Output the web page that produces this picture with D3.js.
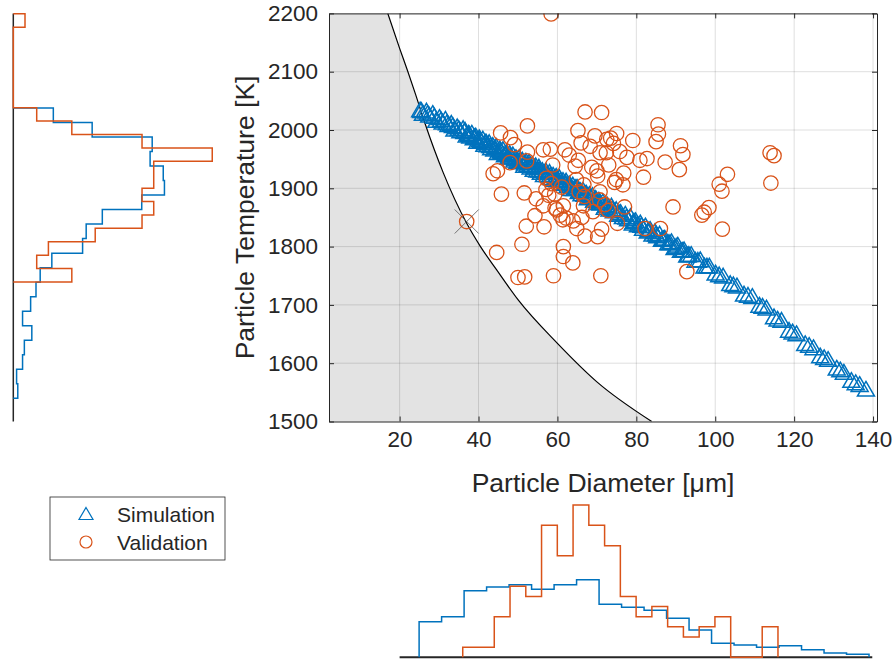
<!DOCTYPE html>
<html>
<head>
<meta charset="utf-8">
<script src="https://cdn.jsdelivr.net/npm/d3@7/dist/d3.min.js"></script>
<style>
  body { margin: 0; background: #fff; }
  text { font-family: "Liberation Sans", Arial, sans-serif; fill: #262626; }
</style>
</head>
<body>
<svg id="chart" width="895" height="659"></svg>
<script>
'use strict';

// simulation points (diameter in um, temperature in K)
var simDiameter = [
  25.2, 25.9, 26.8, 27.5, 28.4, 29.3, 30.1,
  30.9, 31.6, 32.4, 33.1, 33.9, 34.6, 35.4, 36.1,
  36.6, 37.0, 37.5, 37.9, 38.3, 38.8, 39.3, 39.7, 40.2, 40.6, 41.1, 41.5, 41.9,
  42.3, 42.7, 43.2, 43.6, 44.0, 44.5, 44.9, 45.4, 45.8, 46.2, 46.7, 47.1, 47.6,
  47.9, 48.3, 48.7, 49.1, 49.5, 49.9, 50.3, 50.7, 51.1, 51.6, 52.0, 52.4, 52.8, 53.2,
  53.6, 54.0, 54.5, 54.9, 55.3, 55.8, 56.2, 56.6, 57.1, 57.5, 58.0, 58.4, 58.9,
  59.3, 59.7, 60.1, 60.5, 61.0, 61.4, 61.8, 62.2, 62.6, 63.0, 63.5, 63.9, 64.3, 64.7,
  65.0, 65.4, 65.7, 66.1, 66.5, 66.9, 67.3, 67.7, 68.1, 68.5, 68.9, 69.3, 69.7, 70.1, 70.5,
  70.9, 71.5, 72.0, 72.6, 73.2, 73.7, 74.3, 74.9, 75.4, 76.0,
  76.6, 77.2, 77.9, 78.5, 79.1, 79.8, 80.4, 81.0, 81.7,
  82.3, 82.9, 83.5, 84.1, 84.7, 85.3, 85.9, 86.5, 87.2,
  88.1, 88.9, 89.7, 90.5, 91.3, 92.1, 92.9,
  93.9, 95.0, 96.2, 97.3, 98.5,
  100.1, 102.0, 103.8,
  105.5, 107.3, 109.4,
  111.2, 113.0, 114.9,
  116.8, 118.7, 120.6,
  122.8, 124.9, 126.6,
  128.6, 130.8, 132.6,
  134.5, 136.6, 138.2,
  25.5, 27.1, 28.8, 30.5, 32.0, 33.5, 35.0, 36.4, 37.7, 39.0,
  40.4, 41.7, 43.0, 44.2, 45.6, 47.0, 48.1, 49.3, 50.5, 51.8,
  53.0, 54.2, 55.5, 56.8, 58.2, 59.5, 60.8, 62.0, 63.3, 64.5,
  65.9, 67.1, 68.3, 69.5, 70.7, 72.3, 74.0, 75.7, 77.5, 79.4,
  81.3, 83.2, 85.0, 86.9, 88.5, 90.1, 91.7, 93.3, 95.6, 97.9,
  101.0, 104.6, 108.3, 112.0, 115.8, 119.6, 123.8, 127.6, 131.7, 135.6
];
var simTemperature = [
  2031, 2025, 2029, 2022, 2025, 2013, 2018,
  2010, 2015, 2006, 2008, 1998, 2002, 1995, 1999,
  1996, 1988, 1991, 1986, 1991, 1983, 1986, 1977, 1983, 1978, 1981, 1972, 1976,
  1971, 1975, 1966, 1970, 1964, 1968, 1958, 1964, 1959, 1963, 1954, 1958, 1950,
  1956, 1950, 1954, 1945, 1949, 1943, 1949, 1942, 1945, 1936, 1943, 1937, 1941, 1933,
  1937, 1929, 1935, 1928, 1933, 1924, 1927, 1920, 1926, 1920, 1924, 1915, 1919,
  1912, 1917, 1911, 1915, 1905, 1910, 1905, 1909, 1901, 1904, 1896, 1902, 1896, 1898,
  1898, 1891, 1893, 1887, 1893, 1886, 1888, 1880, 1886, 1881, 1884, 1876, 1879, 1872, 1876,
  1871, 1873, 1864, 1868, 1861, 1866, 1858, 1860, 1852, 1855,
  1848, 1852, 1844, 1848, 1837, 1841, 1834, 1837, 1828,
  1832, 1823, 1826, 1818, 1822, 1815, 1818, 1809, 1811,
  1803, 1805, 1795, 1799, 1790, 1791, 1782,
  1783, 1773, 1774, 1763, 1763,
  1751, 1746, 1733,
  1729, 1715, 1711,
  1696, 1691, 1676,
  1670, 1653, 1647,
  1630, 1623, 1609,
  1603, 1588, 1581,
  1567, 1560, 1552,
  2030, 2025, 2020, 2014, 2009, 2004, 1999, 1994, 1989, 1985,
  1980, 1975, 1970, 1966, 1961, 1956, 1952, 1948, 1944, 1940,
  1936, 1933, 1928, 1924, 1919, 1915, 1910, 1906, 1901, 1897,
  1892, 1887, 1882, 1878, 1873, 1867, 1861, 1854, 1847, 1840,
  1833, 1825, 1818, 1810, 1803, 1797, 1790, 1783, 1773, 1763,
  1748, 1731, 1713, 1694, 1672, 1650, 1627, 1606, 1585, 1563
];

// validation measurements
var valDiameter = [
  52.4, 45.6, 48.1, 49.1, 52.4, 56.4, 58.2, 61.9, 63.0, 52.2, 48.0, 44.8, 43.7, 57.2, 45.8, 51.6,
  57.1, 59.3, 61.1, 54.6, 56.4, 59.4, 61.5, 54.3, 60.7, 62.2, 52.1, 56.6, 37.0, 51.0, 44.6, 61.5,
  61.5, 50.0, 51.7, 59.0, 63.9, 67.0, 71.2, 65.2, 85.5, 85.6, 85.0, 75.0, 73.5, 79.1, 91.2, 91.8,
  65.3, 70.8, 72.4, 75.8, 77.6, 80.9, 82.7, 87.3, 90.9, 64.5, 68.7, 70.2, 74.9, 76.8, 76.6, 81.8,
  66.7, 65.5, 70.8, 66.8, 70.7, 72.9, 89.3, 96.6, 98.4, 59.8, 61.4, 64.0, 66.6, 64.9, 67.0, 70.2,
  71.2, 82.2, 86.1, 71.0, 92.8, 58.4, 113.9, 114.9, 103.1, 101.0, 101.7, 114.1, 97.2, 101.8,
  72.5, 74.2, 69.5, 68.3, 66.0, 73.0, 70.0, 58.8, 74.5, 64.8, 58.5, 57.8, 72.0, 69.0, 77.0, 75.2, 66.2
];
var valTemperature = [
  2007, 1995, 1987, 1975, 1962, 1966, 1967, 1966, 1957, 1947, 1944, 1930, 1925, 1917, 1890, 1892,
  1898, 1890, 1902, 1882, 1870, 1866, 1870, 1853, 1854, 1849, 1835, 1834, 1843, 1804, 1790, 1800,
  1783, 1747, 1748, 1750, 1772, 2031, 2030, 1999, 2009, 1993, 1980, 1994, 1986, 1982, 1973, 1958,
  1948, 1961, 1961, 1963, 1953, 1948, 1951, 1945, 1932, 1938, 1936, 1921, 1915, 1926, 1906, 1919,
  1906, 1894, 1894, 1886, 1880, 1862, 1868, 1854, 1867, 1863, 1846, 1844, 1870, 1831, 1818, 1817,
  1830, 1831, 1831, 1750, 1757, 2199, 1961, 1956, 1924, 1907, 1895, 1909, 1859, 1830,
  1984, 1977, 1990, 1972, 1978, 1940, 1930, 1940, 1910, 1915, 1908, 1888, 1872, 1860, 1868, 1840, 1850
];

// excluded validation point
var excludedDiameter = [37.0];
var excludedTemperature = [1843];

// boundary curve, shaded region to its left
var boundaryDiameter = [17.0, 20.0, 22.1, 24.0, 26.4, 31.1, 37.0, 40.5, 44.6, 50.1, 60.0, 70.0, 83.9];
var boundaryTemperature = [2200, 2140, 2100, 2062, 2012, 1926, 1840, 1800, 1760, 1708, 1634, 1568, 1500];

// marginal histograms (pdf normalisation)
var simDiamRange = [24.94, 138.98];
var simDiamPdf = [0.00791, 0.00902, 0.01480, 0.01562, 0.01613, 0.01511, 0.01613, 0.01724, 0.01178, 0.01111,
                  0.01044, 0.00866, 0.00607, 0.00311, 0.00273, 0.00222, 0.00258, 0.00169, 0.00096, 0.00067];
var valDiamRange = [36.0, 115.9];
var valDiamCounts = [1, 1, 4, 7, 6, 13, 10, 15, 13, 11, 6, 4, 5, 3, 2, 3, 4, 0, 0, 3];

var simTempRange = [1539.9, 2037.7];
var simTempPdf = [0.00015, 0.00011, 0.00031, 0.00037, 0.00062, 0.00031, 0.00058, 0.00076, 0.00090, 0.00129,
                  0.00232, 0.00244, 0.00298, 0.00430, 0.00506, 0.00502, 0.00458, 0.00465, 0.00264, 0.00134];
var valTempRange = [1739.3, 2199.2];
var valTempCounts = [5, 2, 3, 7, 11, 12, 11, 12, 12, 17, 11, 5, 2, 0, 0, 0, 0, 0, 0, 1];

var xTicks = [20, 40, 60, 80, 100, 120, 140];
var yTicks = [1500, 1600, 1700, 1800, 1900, 2000, 2100, 2200];
var seriesNames = ['Simulation', 'Validation'];

var blue = '#0072BD', orange = '#D95319', ink = '#262626';

var svg = d3.select('#chart');
svg.append('rect').attr('width', 895).attr('height', 659).attr('fill', '#fff');

var box = {left: 329, right: 877, top: 13.4, bottom: 421.5};
var x = d3.scaleLinear().domain([2.1, 141]).range([box.left, box.right]);
var y = d3.scaleLinear().domain([1500, 2200]).range([box.bottom, box.top]);

svg.append('defs').append('clipPath').attr('id', 'plotClip')
  .append('rect').attr('x', box.left).attr('y', box.top)
  .attr('width', box.right - box.left).attr('height', box.bottom - box.top);

var plot = svg.append('g').attr('clip-path', 'url(#plotClip)');

var boundary = boundaryDiameter.map(function(d, i) { return [d, boundaryTemperature[i]]; });
var curveGen = d3.line().x(function(p) { return x(p[0]); }).y(function(p) { return y(p[1]); }).curve(d3.curveMonotoneX);
var curveD = curveGen(boundary);

// shaded region left of the boundary
plot.append('path')
  .attr('d', curveD + 'L' + box.left + ',' + box.bottom + 'L' + box.left + ',' + box.top + 'Z')
  .attr('fill', '#e3e3e3').attr('stroke', 'none');

// grid
plot.selectAll('.gx').data(xTicks).enter().append('line')
  .attr('x1', function(d) { return x(d); }).attr('x2', function(d) { return x(d); })
  .attr('y1', box.top).attr('y2', box.bottom)
  .attr('stroke', ink).attr('stroke-opacity', 0.15).attr('stroke-width', 1);
plot.selectAll('.gy').data(yTicks).enter().append('line')
  .attr('y1', function(d) { return y(d); }).attr('y2', function(d) { return y(d); })
  .attr('x1', box.left).attr('x2', box.right)
  .attr('stroke', ink).attr('stroke-opacity', 0.15).attr('stroke-width', 1);

plot.append('path').attr('d', curveD).attr('fill', 'none').attr('stroke', '#000').attr('stroke-width', 1.2);

// markers
var triPath = 'M0,-9.8L8.5,4.9L-8.5,4.9Z';
plot.selectAll('.sim').data(simDiameter).enter().append('path')
  .attr('d', triPath)
  .attr('transform', function(d, i) { return 'translate(' + x(d) + ',' + y(simTemperature[i]) + ')'; })
  .attr('fill', 'none').attr('stroke', blue).attr('stroke-width', 1.5);

plot.selectAll('.val').data(valDiameter).enter().append('circle')
  .attr('cx', function(d) { return x(d); })
  .attr('cy', function(d, i) { return y(valTemperature[i]); })
  .attr('r', 7.2).attr('fill', 'none').attr('stroke', orange).attr('stroke-width', 1.3);

plot.selectAll('.exc').data(excludedDiameter).enter().append('path')
  .attr('d', 'M-12,-12L12,12M-12,12L12,-12')
  .attr('transform', function(d, i) { return 'translate(' + x(d) + ',' + y(excludedTemperature[i]) + ')'; })
  .attr('stroke', '#555').attr('stroke-width', 0.8).attr('fill', 'none');

// axes (ticks inside, box on)
function styleAxis(g) {
  g.selectAll('path.domain').attr('stroke', ink).attr('stroke-width', 1);
  g.selectAll('.tick line').attr('stroke', ink);
  g.selectAll('.tick text').attr('fill', ink).style('font-size', '22.5px')
    .style('font-family', '"Liberation Sans", Arial, sans-serif');
}
var fmt = d3.format('d');
svg.append('g').attr('transform', 'translate(0,' + box.bottom + ')')
  .call(d3.axisBottom(x).tickValues(xTicks).tickFormat(fmt).tickSizeInner(-5).tickSizeOuter(0).tickPadding(10))
  .call(styleAxis);
svg.append('g').attr('transform', 'translate(0,' + box.top + ')')
  .call(d3.axisTop(x).tickValues(xTicks).tickSizeInner(-5).tickSizeOuter(0).tickFormat(''))
  .call(styleAxis);
svg.append('g').attr('transform', 'translate(' + box.left + ',0)')
  .call(d3.axisLeft(y).tickValues(yTicks).tickFormat(fmt).tickSizeInner(-5).tickSizeOuter(0).tickPadding(11))
  .call(styleAxis);
svg.append('g').attr('transform', 'translate(' + box.right + ',0)')
  .call(d3.axisRight(y).tickValues(yTicks).tickSizeInner(-5).tickSizeOuter(0).tickFormat(''))
  .call(styleAxis);

svg.append('text').attr('x', (box.left + box.right) / 2).attr('y', 492)
  .attr('text-anchor', 'middle').style('font-size', '26.5px').text('Particle Diameter [\u03bcm]');
svg.append('text').attr('transform', 'translate(254,' + (box.top + box.bottom) / 2 + ') rotate(-90)')
  .attr('text-anchor', 'middle').style('font-size', '26.5px').text('Particle Temperature [K]');

// histogram helpers
function edgesOf(range, n) {
  return d3.range(n + 1).map(function(i) { return range[0] + i * (range[1] - range[0]) / n; });
}
function toPdf(counts, range) {
  var n = d3.sum(counts), w = (range[1] - range[0]) / counts.length;
  return counts.map(function(c) { return c / (n * w); });
}

// bottom histogram (diameter)
var hy = d3.scaleLinear().domain([0, 0.036]).range([657.3, 657.3 - 0.036 * 4501]);
function stairsBottom(range, vals) {
  var e = edgesOf(range, vals.length), pts = [[e[0], 0]];
  vals.forEach(function(v, i) { pts.push([e[i], v]); pts.push([e[i + 1], v]); });
  pts.push([e[vals.length], 0]);
  return d3.line().x(function(p) { return x(p[0]); }).y(function(p) { return hy(p[1]); })(pts);
}
svg.append('line').attr('x1', x(20)).attr('x2', x(139.8)).attr('y1', 657.3).attr('y2', 657.3)
  .attr('stroke', ink).attr('stroke-width', 2);
svg.append('path').attr('d', stairsBottom(simDiamRange, simDiamPdf))
  .attr('fill', 'none').attr('stroke', blue).attr('stroke-width', 1.5);
svg.append('path').attr('d', stairsBottom(valDiamRange, toPdf(valDiamCounts, valDiamRange)))
  .attr('fill', 'none').attr('stroke', orange).attr('stroke-width', 1.5);

// left histogram (temperature)
var hx = d3.scaleLinear().domain([0, 0.0075]).range([13.3, 13.3 + 0.0075 * 29870]);
function stairsLeft(range, vals) {
  var e = edgesOf(range, vals.length), pts = [[0, e[0]]];
  vals.forEach(function(v, i) { pts.push([v, e[i]]); pts.push([v, e[i + 1]]); });
  pts.push([0, e[vals.length]]);
  return d3.line().x(function(p) { return hx(p[0]); }).y(function(p) { return y(p[1]); })(pts);
}
svg.append('line').attr('x1', 13.3).attr('x2', 13.3).attr('y1', box.top).attr('y2', box.bottom)
  .attr('stroke', ink).attr('stroke-width', 1.5);
svg.append('path').attr('d', stairsLeft(simTempRange, simTempPdf))
  .attr('fill', 'none').attr('stroke', blue).attr('stroke-width', 1.5);
svg.append('path').attr('d', stairsLeft(valTempRange, toPdf(valTempCounts, valTempRange)))
  .attr('fill', 'none').attr('stroke', orange).attr('stroke-width', 1.5);

// legend
var legend = svg.append('g');
legend.append('rect').attr('x', 50).attr('y', 497).attr('width', 175).attr('height', 63)
  .attr('fill', '#fff').attr('stroke', ink).attr('stroke-width', 0.8);
legend.append('path').attr('d', 'M0,-7.5L7,4.5L-7,4.5Z').attr('transform', 'translate(86,515)')
  .attr('fill', 'none').attr('stroke', blue).attr('stroke-width', 1.2);
legend.append('circle').attr('cx', 86).attr('cy', 542).attr('r', 6)
  .attr('fill', 'none').attr('stroke', orange).attr('stroke-width', 1.2);
legend.selectAll('.lt').data(seriesNames).enter().append('text')
  .attr('x', 117).attr('y', function(d, i) { return 522 + i * 28; })
  .style('font-size', '21px').text(function(d) { return d; });
</script>
</body>
</html>
